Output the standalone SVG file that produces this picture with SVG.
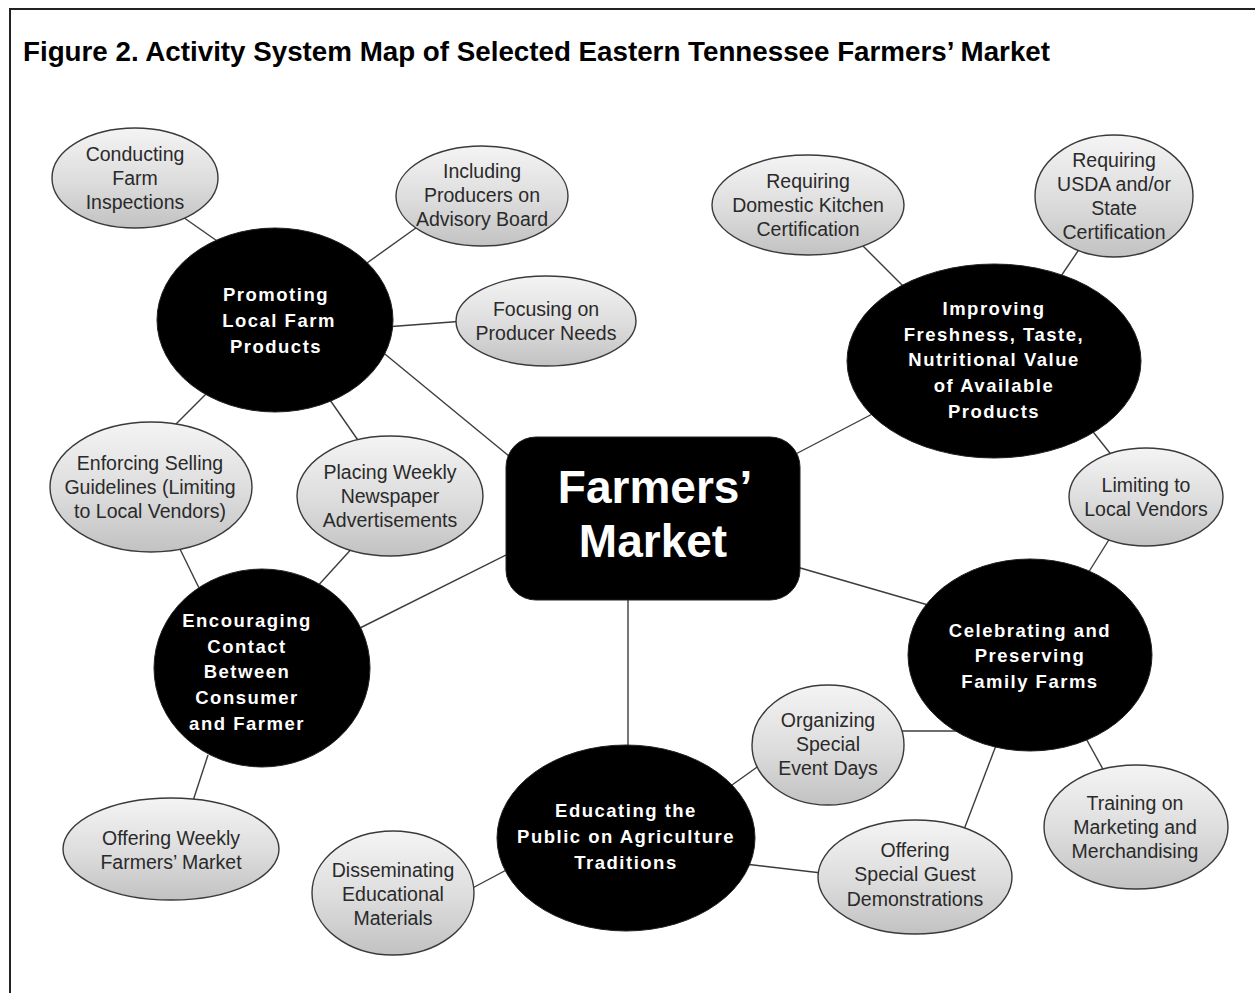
<svg xmlns="http://www.w3.org/2000/svg" width="1255" height="993" viewBox="0 0 1255 993">
  <defs>
    <linearGradient id="greyFill" x1="0" y1="0" x2="0" y2="1">
      <stop offset="0" stop-color="#f4f4f4"/>
      <stop offset="0.55" stop-color="#dcdcdc"/>
      <stop offset="1" stop-color="#c2c2c2"/>
    </linearGradient>
    <style>
      .frame { fill: none; stroke: #222; stroke-width: 2; }
      .title { font-family: "Liberation Sans", Arial, sans-serif; font-weight: bold; font-size: 28px; fill: #000; }
      .link { stroke: #3c3c3c; stroke-width: 1.4; fill: none; }
      .leaf { fill: url(#greyFill); stroke: #3a3a3a; stroke-width: 1.4; }
      .leaf-text { font-family: "Liberation Sans", Arial, sans-serif; font-size: 19.5px; fill: #2a2a2a; text-anchor: middle; }
      .hub { fill: #000; stroke: #222; stroke-width: 1; }
      .hub-text { font-family: "Liberation Sans", Arial, sans-serif; font-weight: bold; font-size: 18.5px; letter-spacing: 1.5px; fill: #fff; text-anchor: middle; }
      .core-text { font-family: "Liberation Sans", Arial, sans-serif; font-weight: bold; font-size: 46px; fill: #fff; text-anchor: middle; }
    </style>
  </defs>

  <rect x="0" y="0" width="1255" height="993" fill="#fff"/>
  <rect class="frame" x="10" y="9" width="1260" height="1000"/>
  <text class="title" x="23" y="61" textLength="1027" lengthAdjust="spacingAndGlyphs">Figure 2. Activity System Map of Selected Eastern Tennessee Farmers’ Market</text>

  <g id="connectors">
    <line class="link" x1="180" y1="215" x2="230" y2="250"/>
    <line class="link" x1="420" y1="225" x2="360" y2="268"/>
    <line class="link" x1="465" y1="321" x2="385" y2="327"/>
    <line class="link" x1="380" y1="350" x2="520" y2="465"/>
    <line class="link" x1="330" y1="400" x2="362" y2="446"/>
    <line class="link" x1="210" y1="390" x2="165" y2="435"/>
    <line class="link" x1="178" y1="545" x2="200" y2="590"/>
    <line class="link" x1="355" y1="545" x2="305" y2="600"/>
    <line class="link" x1="520" y1="548" x2="350" y2="633"/>
    <line class="link" x1="208" y1="755" x2="190" y2="810"/>
    <line class="link" x1="790" y1="457" x2="880" y2="410"/>
    <line class="link" x1="860" y1="243" x2="912" y2="295"/>
    <line class="link" x1="1080" y1="248" x2="1055" y2="285"/>
    <line class="link" x1="1090" y1="428" x2="1117" y2="462"/>
    <line class="link" x1="1110" y1="538" x2="1085" y2="578"/>
    <line class="link" x1="790" y1="565" x2="935" y2="607"/>
    <line class="link" x1="628" y1="590" x2="628" y2="755"/>
    <line class="link" x1="895" y1="731" x2="965" y2="731"/>
    <line class="link" x1="760" y1="765" x2="725" y2="790"/>
    <line class="link" x1="1083" y1="733" x2="1110" y2="782"/>
    <line class="link" x1="1000" y1="735" x2="960" y2="840"/>
    <line class="link" x1="745" y1="864" x2="830" y2="874"/>
    <line class="link" x1="465" y1="892" x2="510" y2="868"/>
  </g>

  <!-- central activity -->
  <g id="farmers-market">
    <rect class="hub" x="506" y="437" width="294" height="163" rx="30" ry="30"/>
    <text class="core-text" x="655" y="503">Farmers’</text>
    <text class="core-text" x="653" y="557">Market</text>
  </g>

  <!-- higher-order themes -->
  <g id="promoting">
    <ellipse class="hub" cx="275" cy="320" rx="118" ry="92"/>
    <text class="hub-text" x="276" y="301">Promoting</text>
    <text class="hub-text" x="279" y="327">Local Farm</text>
    <text class="hub-text" x="276" y="353">Products</text>
  </g>
  <g id="improving">
    <ellipse class="hub" cx="994" cy="361" rx="147" ry="97"/>
    <text class="hub-text" x="994" y="315">Improving</text>
    <text class="hub-text" x="994" y="341">Freshness, Taste,</text>
    <text class="hub-text" x="994" y="366">Nutritional Value</text>
    <text class="hub-text" x="994" y="392">of Available</text>
    <text class="hub-text" x="994" y="418">Products</text>
  </g>
  <g id="encouraging">
    <ellipse class="hub" cx="262" cy="668" rx="108" ry="99"/>
    <text class="hub-text" x="247" y="627">Encouraging</text>
    <text class="hub-text" x="247" y="653">Contact</text>
    <text class="hub-text" x="247" y="678">Between</text>
    <text class="hub-text" x="247" y="704">Consumer</text>
    <text class="hub-text" x="247" y="730">and Farmer</text>
  </g>
  <g id="celebrating">
    <ellipse class="hub" cx="1030" cy="655" rx="122" ry="96"/>
    <text class="hub-text" x="1030" y="637">Celebrating and</text>
    <text class="hub-text" x="1030" y="662">Preserving</text>
    <text class="hub-text" x="1030" y="688">Family Farms</text>
  </g>
  <g id="educating">
    <ellipse class="hub" cx="626" cy="838" rx="129" ry="93"/>
    <text class="hub-text" x="626" y="817">Educating the</text>
    <text class="hub-text" x="626" y="843">Public on Agriculture</text>
    <text class="hub-text" x="626" y="869">Traditions</text>
  </g>

  <!-- specific activities -->
  <g id="conducting">
    <ellipse class="leaf" cx="135" cy="178" rx="83" ry="50"/>
    <text class="leaf-text" x="135" y="161">Conducting</text>
    <text class="leaf-text" x="135" y="185">Farm</text>
    <text class="leaf-text" x="135" y="209">Inspections</text>
  </g>
  <g id="including">
    <ellipse class="leaf" cx="482" cy="196" rx="86" ry="50"/>
    <text class="leaf-text" x="482" y="178">Including</text>
    <text class="leaf-text" x="482" y="202">Producers on</text>
    <text class="leaf-text" x="482" y="226">Advisory Board</text>
  </g>
  <g id="focusing">
    <ellipse class="leaf" cx="546" cy="321" rx="90" ry="45"/>
    <text class="leaf-text" x="546" y="316">Focusing on</text>
    <text class="leaf-text" x="546" y="340">Producer Needs</text>
  </g>
  <g id="domestic-kitchen">
    <ellipse class="leaf" cx="808" cy="205" rx="96" ry="50"/>
    <text class="leaf-text" x="808" y="188">Requiring</text>
    <text class="leaf-text" x="808" y="212">Domestic Kitchen</text>
    <text class="leaf-text" x="808" y="236">Certification</text>
  </g>
  <g id="usda">
    <ellipse class="leaf" cx="1114" cy="196" rx="79" ry="61"/>
    <text class="leaf-text" x="1114" y="167">Requiring</text>
    <text class="leaf-text" x="1114" y="191">USDA and/or</text>
    <text class="leaf-text" x="1114" y="215">State</text>
    <text class="leaf-text" x="1114" y="239">Certification</text>
  </g>
  <g id="enforcing">
    <ellipse class="leaf" cx="151" cy="487" rx="101" ry="65"/>
    <text class="leaf-text" x="150" y="470">Enforcing Selling</text>
    <text class="leaf-text" x="150" y="494">Guidelines (Limiting</text>
    <text class="leaf-text" x="150" y="518">to Local Vendors)</text>
  </g>
  <g id="placing">
    <ellipse class="leaf" cx="390" cy="496" rx="93" ry="60"/>
    <text class="leaf-text" x="390" y="479">Placing Weekly</text>
    <text class="leaf-text" x="390" y="503">Newspaper</text>
    <text class="leaf-text" x="390" y="527">Advertisements</text>
  </g>
  <g id="limiting">
    <ellipse class="leaf" cx="1146" cy="497" rx="77" ry="49"/>
    <text class="leaf-text" x="1146" y="492">Limiting to</text>
    <text class="leaf-text" x="1146" y="516">Local Vendors</text>
  </g>
  <g id="offering-weekly">
    <ellipse class="leaf" cx="171" cy="849" rx="108" ry="51"/>
    <text class="leaf-text" x="171" y="845">Offering Weekly</text>
    <text class="leaf-text" x="171" y="869">Farmers’ Market</text>
  </g>
  <g id="organizing">
    <ellipse class="leaf" cx="828" cy="745" rx="76" ry="60"/>
    <text class="leaf-text" x="828" y="727">Organizing</text>
    <text class="leaf-text" x="828" y="751">Special</text>
    <text class="leaf-text" x="828" y="775">Event Days</text>
  </g>
  <g id="training">
    <ellipse class="leaf" cx="1136" cy="827" rx="92" ry="62"/>
    <text class="leaf-text" x="1135" y="810">Training on</text>
    <text class="leaf-text" x="1135" y="834">Marketing and</text>
    <text class="leaf-text" x="1135" y="858">Merchandising</text>
  </g>
  <g id="guest-demonstrations">
    <ellipse class="leaf" cx="915" cy="877" rx="97" ry="57"/>
    <text class="leaf-text" x="915" y="857">Offering</text>
    <text class="leaf-text" x="915" y="881">Special Guest</text>
    <text class="leaf-text" x="915" y="906">Demonstrations</text>
  </g>
  <g id="disseminating">
    <ellipse class="leaf" cx="393" cy="893" rx="81" ry="62"/>
    <text class="leaf-text" x="393" y="877">Disseminating</text>
    <text class="leaf-text" x="393" y="901">Educational</text>
    <text class="leaf-text" x="393" y="925">Materials</text>
  </g>
</svg>
